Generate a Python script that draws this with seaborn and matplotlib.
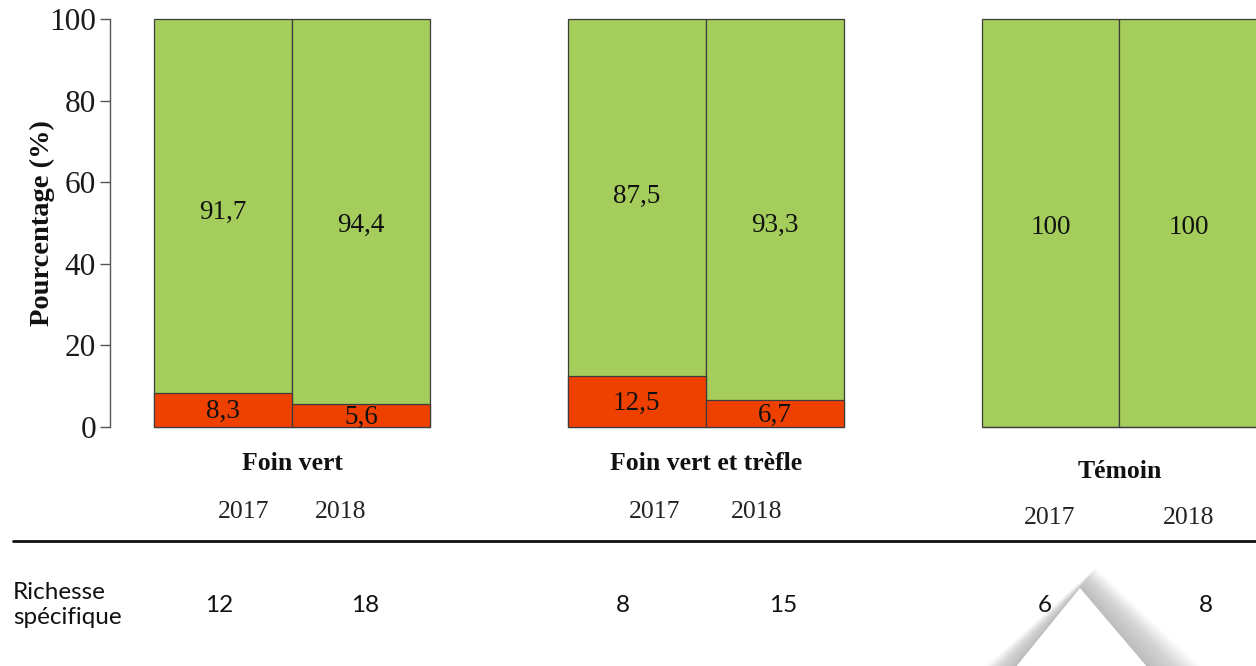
import numpy as np
import pandas as pd
import matplotlib
matplotlib.use("Agg")
import matplotlib.pyplot as plt
import matplotlib.transforms as mtransforms
from matplotlib.patches import Polygon
import seaborn as sns

# data
groups = ["Foin vert", "Foin vert et trèfle", "Témoin"]
years = ["2017", "2018"]
green_pct = [91.7, 94.4, 87.5, 93.3, 100, 100]
red_pct = [8.3, 5.6, 12.5, 6.7, 0, 0]
green_txt = ["91,7", "94,4", "87,5", "93,3", "100", "100"]
red_txt = ["8,3", "5,6", "12,5", "6,7", "", ""]
richesse = [12, 18, 8, 15, 6, 8]

# layout (bar slots, label placement as in the original figure)
positions = [0, 1, 3, 4, 6, 7]
green_label_y = [52.5, 49.5, 56.6, 49.5, 48.8, 48.8]
year_label_x = [0.15, 0.85, 3.13, 3.87, 5.99, 7.0]
year_label_y = [512, 512, 512, 512, 518, 518]
group_label_y = [463, 463, 471]
rich_x = [-0.03, 1.03, 2.9, 4.06, 5.96, 7.13]

GREEN = "#a5cd5b"
RED = "#ee4100"
EDGE = "#3c3c3c"
SERIF = "Liberation Serif"

sns.set_style("white")
plt.rcParams["font.family"] = [SERIF, "DejaVu Serif"]

W, H = 1256, 666
fig = plt.figure(figsize=(W / 100, H / 100), dpi=100)
ax = fig.add_axes([110 / W, (H - 427) / H, (W - 110) / W, 408 / H])

df = pd.DataFrame({"pos": positions, "total": [g + r for g, r in zip(green_pct, red_pct)],
                   "red": red_pct})
sns.barplot(data=df, x="pos", y="total", native_scale=True, color=GREEN,
            saturation=1, width=1, edgecolor=EDGE, linewidth=0.9, errorbar=None, ax=ax)
sns.barplot(data=df, x="pos", y="red", native_scale=True, color=RED,
            saturation=1, width=1, edgecolor=EDGE, linewidth=0.9, errorbar=None, ax=ax)
for p in ax.patches:
    p.set_clip_on(False)

ax.set_xlim(-0.82, 7.49)
ax.set_ylim(0, 100)
ax.set_yticks([0, 20, 40, 60, 80, 100])
ax.tick_params(axis="y", labelsize=22.5, length=7, width=1, color="#555555",
               labelcolor="#1a1a1a", pad=3, left=True)
ax.tick_params(axis="x", bottom=False, labelbottom=False)
ax.set_xlabel("")
ax.set_ylabel("Pourcentage (%)", fontsize=20.5, fontweight="bold", color="#111111")
ax.yaxis.set_label_coords(-0.048, 0.5)
for s in ["top", "right", "bottom"]:
    ax.spines[s].set_visible(False)
ax.spines["left"].set_color("#555555")
ax.spines["left"].set_linewidth(1)

# values inside bars
for x, gy, gt in zip(positions, green_label_y, green_txt):
    ax.text(x, gy, gt, ha="center", va="center", fontsize=19.5, color="#111111")
for x, r, rt in zip(positions, red_pct, red_txt):
    if rt:
        ax.text(x, r / 2 - 0.4, rt, ha="center", va="center", fontsize=19.5,
                color="#111111", clip_on=False)

# group and year labels below the bars
trans = mtransforms.blended_transform_factory(ax.transData, fig.transFigure)
for i, g in enumerate(groups):
    gx = (positions[2 * i] + positions[2 * i + 1]) / 2
    ax.text(gx, 1 - group_label_y[i] / H, g, transform=trans, ha="center",
            va="center", fontsize=18.5, fontweight="bold", color="#111111")
for i, (x, y) in enumerate(zip(year_label_x, year_label_y)):
    ax.text(x, 1 - y / H, years[i % 2], transform=trans, ha="center",
            va="center", fontsize=18.5, color="#222222")

# separator line
fig.add_artist(plt.Line2D([13 / W, 1], [1 - 541 / H] * 2, color="#111111",
                          linewidth=2, transform=fig.transFigure))

# richesse spécifique row
fig.text(13 / W, 1 - 605 / H, "Richesse\nspécifique", ha="left", va="center",
         fontsize=17.5, family="Lato", linespacing=1.2, color="#111111")
for x, v in zip(rich_x, richesse):
    ax.text(x, 1 - 605 / H, str(v), transform=trans, ha="center", va="center",
            fontsize=17.5, family="Lato", color="#111111")

# faint shadowed wedge at the bottom right
def px(x, y):
    return (x / W, 1 - y / H)

for k in range(45, 0, -1):
    tri = [px(1015 - k * 0.7, 668), px(1080 + k * 0.35, 588 - k * 0.45),
           px(1148 + k * 1.2, 668)]
    fig.add_artist(Polygon(tri, closed=True, transform=fig.transFigure,
                           facecolor="#808080", edgecolor="none", alpha=0.013))
fig.add_artist(Polygon([px(1015, 668), px(1080, 588), px(1148, 668)], closed=True,
                       transform=fig.transFigure, facecolor="white", edgecolor="none"))

fig.savefig("out.png", dpi=100)
